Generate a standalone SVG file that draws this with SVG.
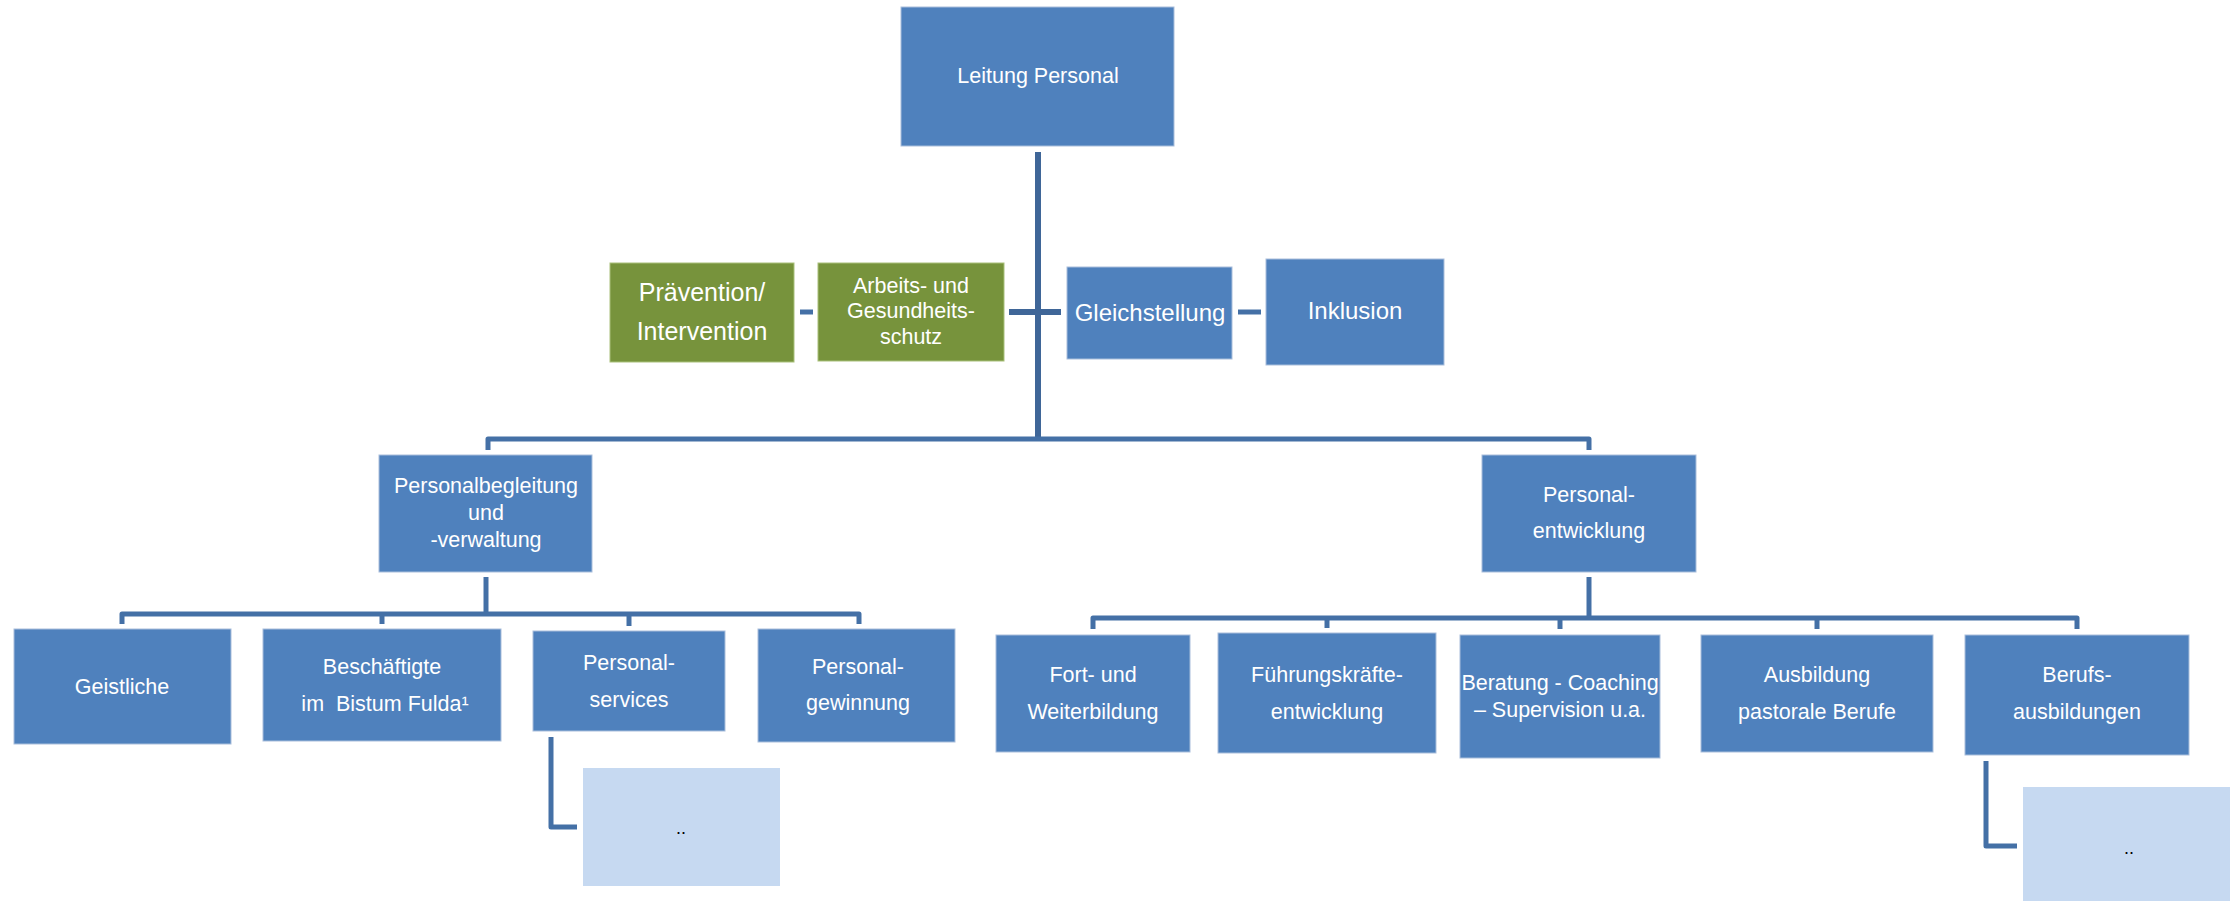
<svg xmlns="http://www.w3.org/2000/svg" width="2230" height="901" viewBox="0 0 2230 901">
<style>
.b{fill:#4F81BD;stroke:#A9BEDB;stroke-width:1}
.g{fill:#77933C;stroke:#A9C07A;stroke-width:1}
.l{fill:#C6D9F1}
.t{font-family:"Liberation Sans",Arial,sans-serif;font-size:21.5px;fill:#FFFFFF;text-anchor:middle}
.big{font-size:25px}
.mid{font-size:24px}
.dk{fill:#000000;font-size:18px}
.c{fill:none;stroke:#4470A6;stroke-width:5;stroke-linejoin:round}
.m{stroke:#3F6698;stroke-width:6}
</style>
<rect width="2230" height="901" fill="#FFFFFF"/>
<g id="connectors">
<path class="c m" d="M1038 152 V439"/>
<path class="c m" d="M1009 312 H1061"/>
<path class="c" d="M800 312 H813"/>
<path class="c" d="M1238 312 H1261"/>
<path class="c" d="M488 450 V439 H1589 V450"/>
<path class="c" d="M486 577 V614"/>
<path class="c" d="M122 624 V614 H859 V624"/>
<path class="c" d="M382 614 V624"/>
<path class="c" d="M629 614 V626"/>
<path class="c" d="M551 737 V827 H577"/>
<path class="c" d="M1589 577 V618"/>
<path class="c" d="M1093 629 V618 H2077 V629"/>
<path class="c" d="M1327 618 V628"/>
<path class="c" d="M1560 618 V629"/>
<path class="c" d="M1817 618 V629"/>
<path class="c" d="M1986 761 V846 H2017"/>
</g>
<g id="leitung"><rect class="b" x="901" y="7" width="273" height="139"/><text class="t" x="1038" y="83">Leitung Personal</text></g>
<g id="praevention"><rect class="g" x="610" y="263" width="184" height="99"/><text class="t big" x="702" y="301">Prävention/</text><text class="t big" x="702" y="340">Intervention</text></g>
<g id="arbeitsschutz"><rect class="g" x="818" y="263" width="186" height="98"/><text class="t" x="911" y="293">Arbeits- und</text><text class="t" x="911" y="318">Gesundheits-</text><text class="t" x="911" y="344">schutz</text></g>
<g id="gleichstellung"><rect class="b" x="1067" y="267" width="165" height="92"/><text class="t mid" x="1150" y="321">Gleichstellung</text></g>
<g id="inklusion"><rect class="b" x="1266" y="259" width="178" height="106"/><text class="t mid" x="1355" y="319">Inklusion</text></g>
<g id="personalbegleitung"><rect class="b" x="379" y="455" width="213" height="117"/><text class="t" x="486" y="493">Personalbegleitung</text><text class="t" x="486" y="520">und</text><text class="t" x="486" y="547">-verwaltung</text></g>
<g id="personalentwicklung"><rect class="b" x="1482" y="455" width="214" height="117"/><text class="t" x="1589" y="502">Personal-</text><text class="t" x="1589" y="538">entwicklung</text></g>
<g id="geistliche"><rect class="b" x="14" y="629" width="217" height="115"/><text class="t" x="122" y="694">Geistliche</text></g>
<g id="beschaeftigte"><rect class="b" x="263" y="629" width="238" height="112"/><text class="t" x="382" y="674">Beschäftigte</text><text class="t" x="385" y="711" xml:space="preserve">im  Bistum Fulda¹</text></g>
<g id="personalservices"><rect class="b" x="533" y="631" width="192" height="100"/><text class="t" x="629" y="670">Personal-</text><text class="t" x="629" y="707">services</text></g>
<g id="personalgewinnung"><rect class="b" x="758" y="629" width="197" height="113"/><text class="t" x="858" y="674">Personal-</text><text class="t" x="858" y="710">gewinnung</text></g>
<g id="services-sub"><rect class="l" x="583" y="768" width="197" height="118"/><text class="t dk" x="681" y="834">..</text></g>
<g id="fortbildung"><rect class="b" x="996" y="635" width="194" height="117"/><text class="t" x="1093" y="682">Fort- und</text><text class="t" x="1093" y="719">Weiterbildung</text></g>
<g id="fuehrungskraefte"><rect class="b" x="1218" y="633" width="218" height="120"/><text class="t" x="1327" y="682">Führungskräfte-</text><text class="t" x="1327" y="719">entwicklung</text></g>
<g id="beratung"><rect class="b" x="1460" y="635" width="200" height="123"/><text class="t" x="1560" y="690">Beratung - Coaching</text><text class="t" x="1560" y="717">– Supervision u.a.</text></g>
<g id="ausbildung"><rect class="b" x="1701" y="635" width="232" height="117"/><text class="t" x="1817" y="682">Ausbildung</text><text class="t" x="1817" y="719">pastorale Berufe</text></g>
<g id="berufsausbildungen"><rect class="b" x="1965" y="635" width="224" height="120"/><text class="t" x="2077" y="682">Berufs-</text><text class="t" x="2077" y="719">ausbildungen</text></g>
<g id="berufs-sub"><rect class="l" x="2023" y="787" width="207" height="114"/><text class="t dk" x="2129" y="854">..</text></g>
</svg>
